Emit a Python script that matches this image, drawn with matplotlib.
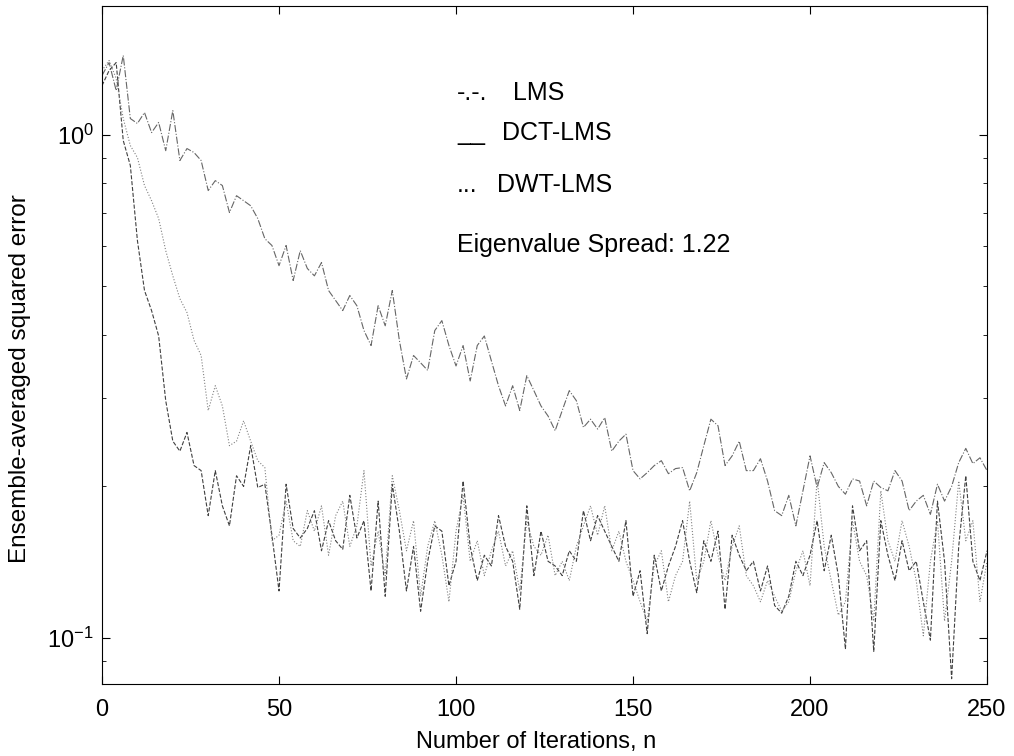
import numpy as np
from matplotlib import pyplot as plt

plt.rcParams['font.family'] = ['Liberation Sans', 'DejaVu Sans']

# iterations, sampled every 2 steps
n = np.arange(0, 251, 2)

lms = [1.310, 1.390, 1.223, 1.436, 1.076, 1.052, 1.106, 1.009, 1.057, 0.929,
       1.116, 0.888, 0.938, 0.921, 0.888, 0.774, 0.810, 0.792, 0.700, 0.756,
       0.739, 0.722, 0.681, 0.621, 0.602, 0.549, 0.602, 0.513, 0.588, 0.542,
       0.524, 0.557, 0.490, 0.468, 0.447, 0.479, 0.457, 0.408, 0.381, 0.457,
       0.417, 0.490, 0.390, 0.327, 0.364, 0.352, 0.340, 0.408, 0.427, 0.381,
       0.347, 0.381, 0.324, 0.381, 0.398, 0.355, 0.317, 0.289, 0.317, 0.283,
       0.332, 0.310, 0.289, 0.276, 0.258, 0.283, 0.310, 0.296, 0.262, 0.272,
       0.260, 0.274, 0.235, 0.246, 0.254, 0.215, 0.207, 0.213, 0.220, 0.225,
       0.212, 0.217, 0.218, 0.196, 0.213, 0.241, 0.272, 0.264, 0.220, 0.230,
       0.246, 0.215, 0.215, 0.227, 0.205, 0.179, 0.175, 0.192, 0.167, 0.196,
       0.230, 0.199, 0.223, 0.213, 0.200, 0.193, 0.207, 0.205, 0.183, 0.205,
       0.199, 0.196, 0.215, 0.205, 0.179, 0.187, 0.192, 0.176, 0.202, 0.187,
       0.200, 0.223, 0.238, 0.222, 0.228, 0.215]

dct = [1.251, 1.340, 1.390, 0.973, 0.868, 0.616, 0.490, 0.447, 0.398, 0.296,
       0.246, 0.235, 0.256, 0.220, 0.215, 0.175, 0.215, 0.183, 0.167, 0.210,
       0.200, 0.241, 0.199, 0.202, 0.160, 0.124, 0.202, 0.165, 0.158, 0.165,
       0.179, 0.149, 0.171, 0.156, 0.150, 0.192, 0.158, 0.171, 0.124, 0.187,
       0.121, 0.202, 0.163, 0.124, 0.152, 0.113, 0.142, 0.167, 0.163, 0.127,
       0.142, 0.205, 0.152, 0.130, 0.146, 0.139, 0.175, 0.152, 0.142, 0.114,
       0.183, 0.133, 0.163, 0.142, 0.139, 0.133, 0.149, 0.142, 0.179, 0.156,
       0.175, 0.163, 0.152, 0.142, 0.171, 0.121, 0.136, 0.102, 0.146, 0.124,
       0.139, 0.152, 0.171, 0.142, 0.123, 0.156, 0.142, 0.163, 0.114, 0.160,
       0.146, 0.136, 0.142, 0.124, 0.139, 0.116, 0.112, 0.121, 0.142, 0.133,
       0.146, 0.171, 0.136, 0.160, 0.133, 0.095, 0.183, 0.149, 0.156, 0.094,
       0.171, 0.146, 0.130, 0.156, 0.136, 0.142, 0.118, 0.099, 0.187, 0.142,
       0.083, 0.152, 0.210, 0.142, 0.130, 0.149]

dwt = [1.340, 1.403, 1.292, 1.076, 0.951, 0.900, 0.792, 0.739, 0.681, 0.588,
       0.524, 0.472, 0.443, 0.390, 0.364, 0.283, 0.317, 0.289, 0.241, 0.246,
       0.270, 0.246, 0.225, 0.218, 0.156, 0.160, 0.187, 0.156, 0.152, 0.179,
       0.163, 0.183, 0.146, 0.175, 0.187, 0.152, 0.167, 0.215, 0.139, 0.163,
       0.133, 0.210, 0.179, 0.149, 0.171, 0.121, 0.152, 0.171, 0.146, 0.118,
       0.163, 0.192, 0.142, 0.156, 0.133, 0.149, 0.163, 0.139, 0.149, 0.124,
       0.171, 0.152, 0.146, 0.160, 0.133, 0.142, 0.130, 0.152, 0.167, 0.183,
       0.160, 0.183, 0.149, 0.163, 0.142, 0.130, 0.118, 0.108, 0.139, 0.149,
       0.118, 0.133, 0.142, 0.187, 0.130, 0.142, 0.171, 0.146, 0.130, 0.152,
       0.167, 0.133, 0.127, 0.118, 0.130, 0.121, 0.113, 0.118, 0.136, 0.149,
       0.127, 0.207, 0.152, 0.130, 0.111, 0.118, 0.171, 0.142, 0.133, 0.108,
       0.196, 0.156, 0.142, 0.171, 0.152, 0.130, 0.101, 0.142, 0.171, 0.108,
       0.142, 0.205, 0.156, 0.171, 0.118, 0.142]

fig = plt.figure(figsize=(10.14, 7.56), dpi=100)
ax = fig.add_axes([0.1006, 0.0952, 0.8728, 0.8968])

ax.semilogy(n, lms, color='0.4', lw=0.8, ls='-.')
ax.semilogy(n, dct, color='0.25', lw=0.8, ls='--')
ax.semilogy(n, dwt, color='0.5', lw=0.8, ls=':')

ax.set_xlim(0, 250)
ax.set_ylim(0.081, 1.80)
ax.set_xticks([0, 50, 100, 150, 200, 250])
ax.tick_params(which='both', direction='in', top=True, right=True, labelsize=17)
ax.tick_params(which='major', length=6)
ax.tick_params(which='minor', length=3)
ax.tick_params(axis='x', pad=11)
ax.tick_params(axis='y', pad=6)

ax.set_xlabel('Number of Iterations, n', fontsize=17)
ax.set_ylabel('Ensemble-averaged squared error', fontsize=17.5)
ax.xaxis.set_label_coords(0.49, -0.07)
ax.yaxis.set_label_coords(-0.08, 0.451)

# hand-made legend, as in the original figure
tf = ax.transAxes
ax.text(0.401, 0.872, '-.-.', transform=tf, fontsize=18, va='center')
ax.text(0.464, 0.872, 'LMS', transform=tf, fontsize=18, va='center')
ax.text(0.401, 0.813, '__', transform=tf, fontsize=18, va='center')
ax.text(0.452, 0.813, 'DCT-LMS', transform=tf, fontsize=18, va='center')
ax.text(0.401, 0.736, '...', transform=tf, fontsize=18, va='center')
ax.text(0.446, 0.736, 'DWT-LMS', transform=tf, fontsize=18, va='center')
ax.text(0.401, 0.647, 'Eigenvalue Spread: 1.22', transform=tf, fontsize=18, va='center')

fig.savefig('out.png', dpi=100)
